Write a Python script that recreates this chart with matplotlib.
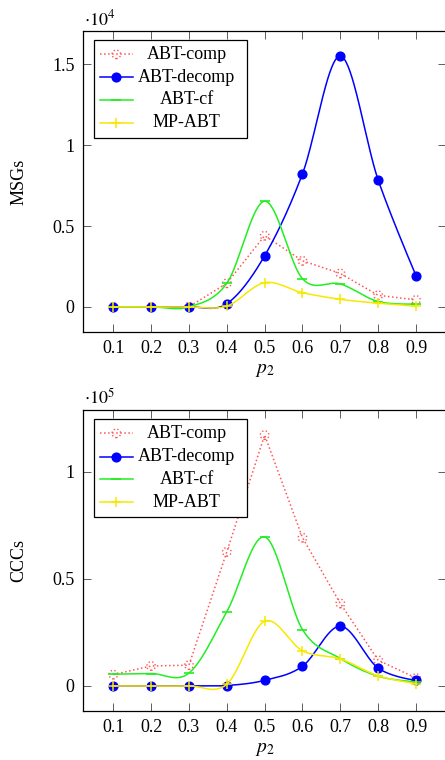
import numpy as np
import matplotlib
matplotlib.use('Agg')
import matplotlib.pyplot as plt
from matplotlib.lines import Line2D
from matplotlib.patches import Rectangle
from matplotlib.ticker import FuncFormatter, FixedLocator

# ---------------- data ----------------
p2 = [0.1, 0.2, 0.3, 0.4, 0.5, 0.6, 0.7, 0.8, 0.9]
series_names = ['ABT-comp', 'ABT-decomp', 'ABT-cf', 'MP-ABT']

msgs_comp   = [0, 0, 10, 1460, 4400, 2850, 2070, 720, 430]
msgs_decomp = [0, 0, 0, 200, 3160, 8230, 15500, 7840, 1930]
msgs_cf     = [0, 0, 0, 1460, 6530, 1740, 1420, 330, 180]
msgs_mp     = [0, 0, 0, 50, 1500, 880, 470, 230, 50]

ccc_comp   = [5300, 9300, 9700, 62600, 117100, 69200, 38500, 12000, 3700]
ccc_decomp = [0, 0, 0, 200, 2600, 9200, 27900, 8300, 2600]
ccc_cf     = [5500, 5800, 6000, 34600, 69600, 26300, 12800, 4500, 1900]
ccc_mp     = [0, 0, 0, 800, 30200, 16400, 12600, 4700, 1100]

xticks = [0.1, 0.2, 0.3, 0.4, 0.5, 0.6, 0.7, 0.8, 0.9]
msgs_yticks = [0, 0.5, 1, 1.5]
ccc_yticks = [0, 0.5, 1]

# ---------------- style ----------------
plt.rcParams['font.family'] = ['Liberation Serif', 'DejaVu Serif']
plt.rcParams['mathtext.fontset'] = 'stix'
FS = 13

W, H = 445, 760
fig = plt.figure(figsize=(W / 100, H / 100), dpi=100)

C_RED = '#ff5555'
C_BLUE = '#0000ff'
C_GREEN = '#22ee22'
C_YEL = '#f8e800'


def fx(px):
    return px / W


def fy(py):
    return 1 - py / H


def smooth(x, y, k=0.165, n=40):
    P = np.column_stack([np.asarray(x, float), np.asarray(y, float)])
    t = np.linspace(0, 1, n)[1:, None]
    out = [P[0]]
    for i in range(len(P) - 1):
        a, b = P[i], P[i + 1]
        c1 = a + k * (P[i + 1] - P[i - 1]) if i > 0 else a
        c2 = b - k * (P[i + 2] - P[i]) if i + 2 < len(P) else b
        seg = (1 - t) ** 3 * a + 3 * (1 - t) ** 2 * t * c1 + 3 * (1 - t) * t ** 2 * c2 + t ** 3 * b
        out.extend(seg)
    out = np.array(out)
    return out[:, 0], out[:, 1]


styles = [
    dict(color=C_RED, ls=':', lw=1.1, kind='comp', smooth=False),
    dict(color=C_BLUE, ls='-', lw=1.1, kind='decomp', smooth=True),
    dict(color=C_GREEN, ls='-', lw=1.1, kind='cf', smooth=True),
    dict(color=C_YEL, ls='-', lw=1.1, kind='mp', smooth=True),
]


def draw_markers(ax, x, y, st, zorder=3):
    k = st['kind']
    if k == 'comp':
        ax.scatter(x, y, s=38, facecolors='none', edgecolors=st['color'],
                   linewidths=1.0, linestyles=':', zorder=zorder)
    elif k == 'decomp':
        ax.plot(x, y, ls='none', marker='o', ms=6.3, color=st['color'],
                zorder=zorder)
    elif k == 'cf':
        ax.plot(x, y, ls='none', marker='_', ms=7, mew=1.2, color=st['color'],
                zorder=zorder)
    else:
        ax.plot(x, y, ls='none', marker='+', ms=7.5, mew=1.1, color=st['color'],
                zorder=zorder)


def make_panel(top_px, bot_px, data, scale, yticks, ylim, ylabel, exp, legend_rows):
    left_px, right_px = 83, 446.3
    ax = fig.add_axes([fx(left_px), fy(bot_px), fx(right_px) - fx(left_px),
                       fy(top_px) - fy(bot_px)])
    for i, (vals, st) in enumerate(zip(data, styles)):
        yv = np.asarray(vals, float) / scale
        if st['smooth']:
            sx, sy = smooth(p2, yv)
        else:
            sx, sy = p2, yv
        ax.plot(sx, sy, color=st['color'], ls=st['ls'], lw=st['lw'], zorder=2 + i * 0.1)
        draw_markers(ax, p2, yv, st, zorder=2.05 + i * 0.1)
    ax.set_xlim(0.02, 0.98)
    ax.set_ylim(*ylim)
    ax.xaxis.set_major_locator(FixedLocator(xticks))
    ax.yaxis.set_major_locator(FixedLocator(yticks))
    ax.xaxis.set_major_formatter(FuncFormatter(lambda v, p: f'{v:.1f}'))
    ax.yaxis.set_major_formatter(FuncFormatter(lambda v, p: f'{v:g}'))
    ax.tick_params(direction='in', length=6, width=0.6, color='#444444',
                   top=True, right=True, labelsize=FS, pad=6)
    for sp in ax.spines.values():
        sp.set_linewidth(0.9)
        sp.set_color('black')
    # labels
    fig.text(fx(19), fy((top_px + bot_px) / 2), ylabel, rotation=90,
             ha='center', va='center', fontsize=FS)
    fig.text(fx(264.5), fy(bot_px + 38), r'$p_2$', ha='center', va='center',
             fontsize=FS + 1)
    fig.text(fx(84), fy(top_px - 6), r'$\cdot 10^{%d}$' % exp, ha='left',
             va='baseline', fontsize=FS)
    # legend (manual, pgfplots style)
    lx0, lx1 = 94, 247
    ly0, ly1 = legend_rows[0] - 14.5, legend_rows[-1] + 15
    rect = Rectangle((fx(lx0), fy(ly1)), fx(lx1) - fx(lx0), fy(ly0) - fy(ly1),
                     transform=fig.transFigure, facecolor='white',
                     edgecolor='black', linewidth=0.9, zorder=10)
    fig.add_artist(rect)
    for name, st, ry in zip(series_names, styles, legend_rows):
        line = Line2D([fx(100), fx(132.7)], [fy(ry), fy(ry)], color=st['color'],
                      ls=st['ls'], lw=st['lw'], transform=fig.transFigure, zorder=11)
        fig.add_artist(line)
        fig.text(fx(186.7), fy(ry), name, ha='center', va='center',
                 fontsize=FS, zorder=12)
    return ax


ax1 = make_panel(31, 332, [msgs_comp, msgs_decomp, msgs_cf, msgs_mp], 1e4,
                 msgs_yticks, (-0.155, 1.705), 'MSGs', 4, [54.3, 77.3, 100, 122.7])
ax2 = make_panel(410, 711, [ccc_comp, ccc_decomp, ccc_cf, ccc_mp], 1e5,
                 ccc_yticks, (-0.117, 1.288), 'CCCs', 5, [433.3, 456.7, 479, 502.3])

# legend markers, drawn on an overlay axes in figure coordinates
ov = fig.add_axes([0, 0, 1, 1], facecolor='none')
ov.set_xlim(0, 1)
ov.set_ylim(0, 1)
ov.axis('off')
ov.set_zorder(20)
for rows in ([54.3, 77.3, 100, 122.7], [433.3, 456.7, 479, 502.3]):
    for st, ry in zip(styles, rows):
        draw_markers(ov, [fx(116.3)], [fy(ry)], st)

fig.savefig('out.png', dpi=100)
